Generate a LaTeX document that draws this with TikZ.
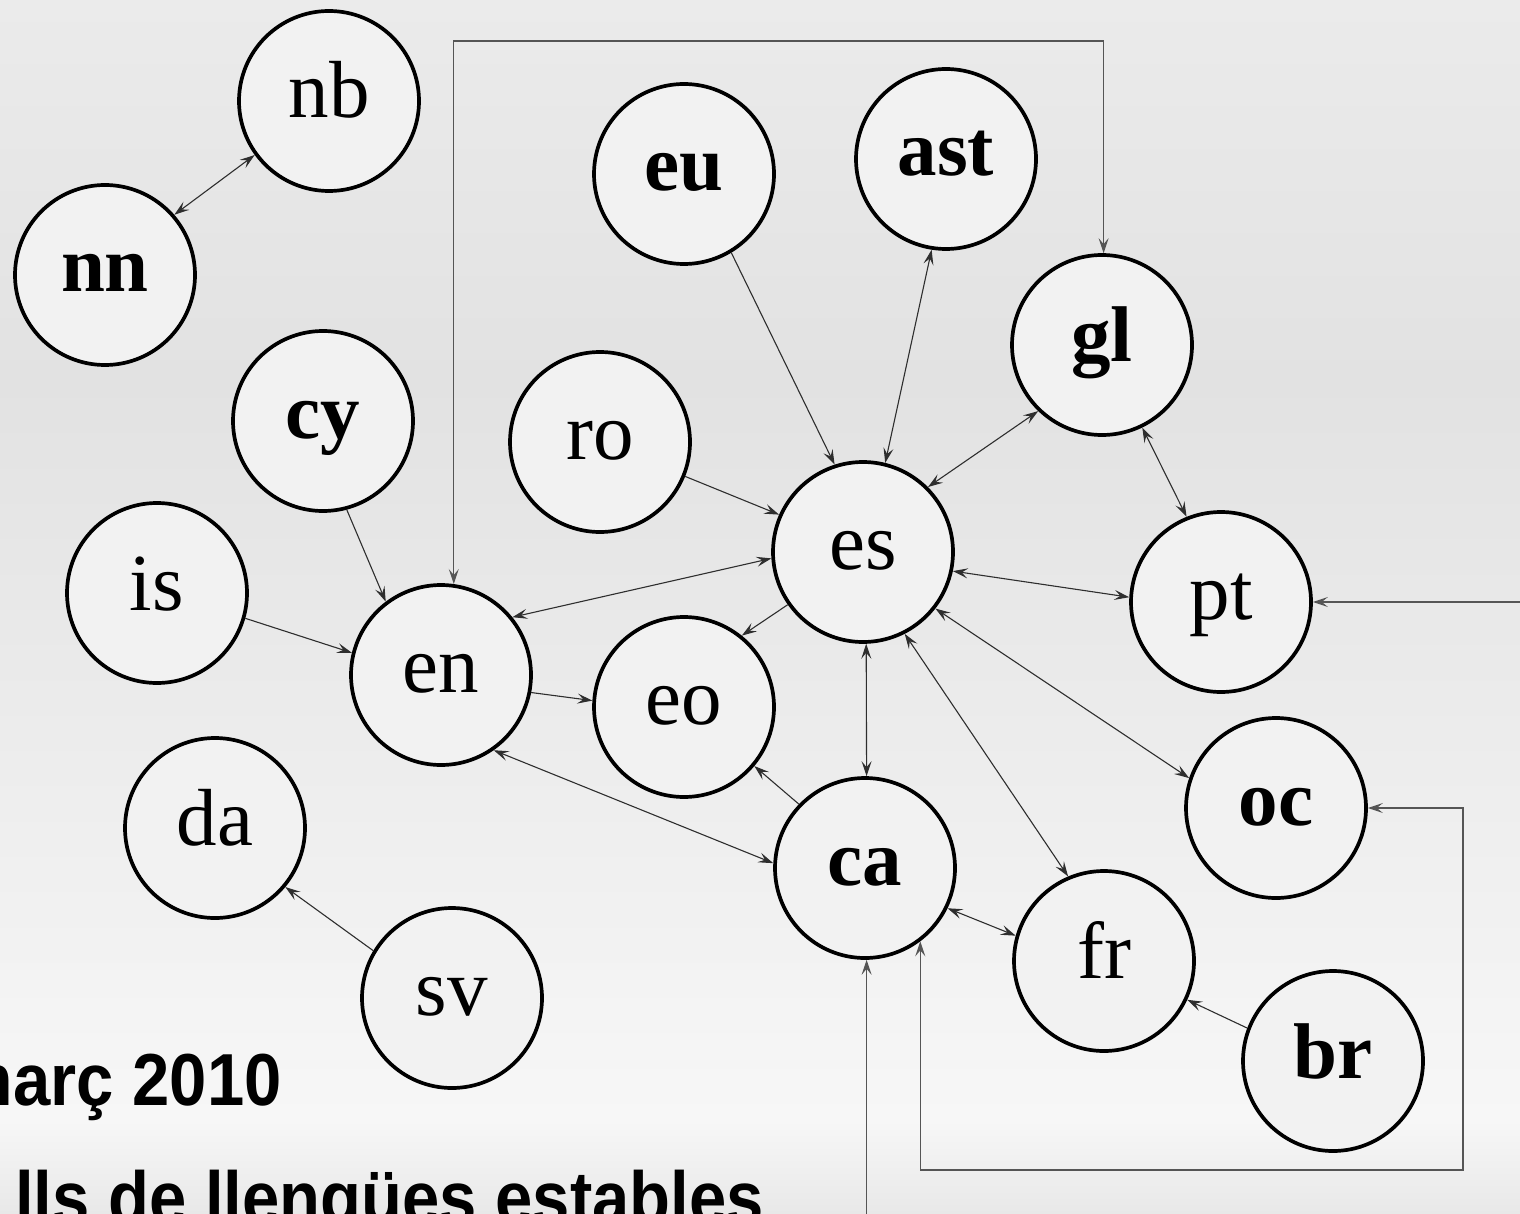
\documentclass[tikz,border=0pt]{standalone}
\usepackage{fontspec}
\setmainfont{Liberation Serif}
\newfontfamily\titlesans{Liberation Sans}
\usetikzlibrary{arrows.meta}
\definecolor{bgA}{HTML}{EBEBEB}
\definecolor{bgB}{HTML}{E2E2E2}
\definecolor{bgC}{HTML}{F7F7F7}
\definecolor{bgD}{HTML}{E8E8E8}
\definecolor{nodefill}{HTML}{F2F2F2}
\definecolor{edgecol}{HTML}{2E2E2E}
\definecolor{routecol}{HTML}{555555}
\newcommand{\tallertext}[1]{\scalebox{1}[1.1]{#1}}
\begin{document}
\begin{tikzpicture}[x=1pt,y=-1pt,
  lang/.style={circle,draw=black,line width=3.7pt,fill=nodefill,minimum size=180pt,inner sep=0pt,
    text height=34pt,text depth=0pt,font=\fontsize{81pt}{81pt}\selectfont},
  blang/.style={lang,font=\fontsize{79pt}{79pt}\selectfont\bfseries},
  edge/.style={draw=edgecol,line width=1.1pt},
  route/.style={draw=routecol,line width=1.4pt},
  titletext/.style={anchor=base east,inner sep=0pt,font=\titlesans\bfseries\fontsize{67pt}{67pt}\selectfont},
  >={Stealth[length=15pt,width=10pt,inset=6pt]}]
\useasboundingbox (0,0) rectangle (1520,1214);
% background
\shade[top color=bgA,bottom color=bgB] (0,0) rectangle (1520,381);
\shade[top color=bgB,bottom color=bgC] (0,380) rectangle (1520,1121);
\shade[top color=bgC,bottom color=bgD] (0,1120) rectangle (1520,1214);

% titles
\node[titletext] (t1) at (282,1105) {\tallertext{març 2010}};
\node[titletext] (t2) at (764,1223) {\tallertext{lls de llengües estables}};

% nodes
\node[lang]  (nb)  at (329,101)  {nb};
\node[blang] (nn)  at (105,275)  {nn};
\node[blang] (cy)  at (323,421)  {cy};
\node[lang]  (is)  at (157,593)  {is};
\node[lang]  (en)  at (441,675)  {en};
\node[lang]  (ro)  at (600,442)  {ro};
\node[blang] (eu)  at (684,174)  {eu};
\node[blang] (ast) at (946,159)  {ast};
\node[blang] (gl)  at (1102,345) {gl};
\node[lang]  (es)  at (863,552)  {es};
\node[lang]  (eo)  at (684,707)  {eo};
\node[lang]  (pt)  at (1221,602) {pt};
\node[blang] (oc)  at (1276,808) {oc};
\node[blang] (ca)  at (865,868)  {ca};
\node[lang]  (fr)  at (1104,961) {fr};
\node[blang] (br)  at (1333,1061) {br};
\node[lang]  (da)  at (215,828)  {da};
\node[lang]  (sv)  at (452,998)  {sv};

% straight connectors
\draw[edge,<->] (nn.41) -- (nb.216);
\draw[edge,->] (cy.-75) -- (en.127);
\draw[edge,->] (is.-16) -- (en.166);
\draw[edge,->] (en.-11) -- (eo.176);
\draw[edge,<->] (es.184) -- (en.39);
\draw[edge,->] (es.215) -- (eo.51);
\draw[edge,->] (ca.136) -- (eo.-40);
\draw[edge,<->] (ca.177) -- (en.-55.5);
\draw[edge,->] (ro.-22.5) -- (es.156.5);
\draw[edge,->] (eu.-59.4) -- (es.108.4);
\draw[edge,<->] (es.76.3) -- (ast.261.8);
\draw[edge,<->] (es.45) -- (gl.226);
\draw[edge,<->] (gl.-64) -- (pt.112);
\draw[edge,<->] (es.-12.3) -- (pt.177.7);
\draw[edge,<->] (es.-38.2) -- (oc.161.3);
\draw[edge,<->] (es.-63.2) -- (fr.113.4);
\draw[edge,<->] (es.-88) -- (ca.89);
\draw[edge,<->] (ca.-26.8) -- (fr.164.7);
\draw[edge,->] (br.159) -- (fr.-25.2);
\draw[edge,->] (sv.149.8) -- (da.-40);

% routed connectors
\coordinate (topc) at (760,41);
\draw[route,<->] (en.82.5) |- (topc) -| (gl.89.4);
\coordinate (rcorner) at (1463,1170);
\draw[route,<->] (oc.0) -| (rcorner) -| (ca.-53.3);
\coordinate (bottomc) at (866,1220);
\draw[route,->] (ca.-89.4 |- bottomc) -- (ca.-89.4);
\coordinate (rightc) at (1522,602);
\draw[route,->] (rightc) -- (pt.0);
\end{tikzpicture}
\end{document}
